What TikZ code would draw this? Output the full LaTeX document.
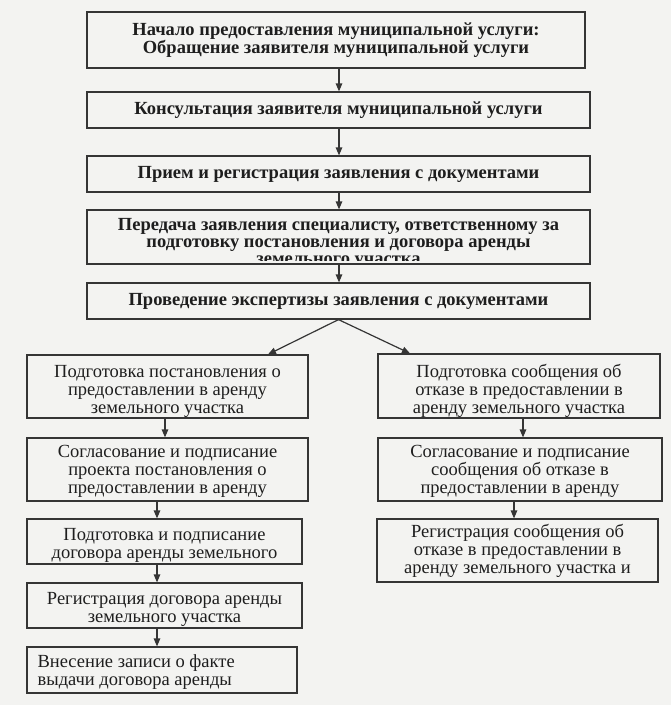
\documentclass[tikz,border=0pt]{standalone}
\usepackage{fontspec}
\setmainfont{Liberation Serif}
\usetikzlibrary{arrows.meta}
\definecolor{bg}{HTML}{F3F3F1}
\definecolor{ln}{HTML}{353535}
\definecolor{tx}{HTML}{1E1E1E}
\newcommand\dropby[1]{\rule{0pt}{#1}}
\tikzset{
  box/.style={draw=ln, line width=1.2pt, inner sep=0pt, text=tx, align=center},
  topbox/.style={box, font=\fontsize{18.5}{17}\selectfont\bfseries},
  subbox/.style={box, font=\fontsize{18.5}{18}\selectfont},
  topline/.style={inner sep=0pt, text=tx, font=\fontsize{18.5}{17}\selectfont\bfseries, anchor=base},
  arr/.style={draw=ln, line width=1.2pt, -{Triangle[length=8pt,width=6.5pt]}},
}
\begin{document}
\begin{tikzpicture}[x=1pt,y=-1pt]
\fill[bg] (0,0) rectangle (671,705);
\useasboundingbox (0,0) rectangle (671,705);
% top column
\node[topbox, minimum width=498pt, minimum height=56pt] (b1) at (336,40)
  {Начало предоставления муниципальной услуги:\\Обращение заявителя муниципальной услуги};
\node[topbox, minimum width=503pt, minimum height=36pt] (b2) at (338.5,110)
  {Консультация заявителя муниципальной услуги};
\node[topbox, minimum width=503pt, minimum height=36pt] (b3) at (338.5,174)
  {Прием и регистрация заявления с документами};
\node[box, minimum width=503pt, minimum height=54pt] (b4) at (338.5,237) {};
\begin{scope}
\clip (87,210) rectangle (590,260);
\node[topline] (t4a) at (338.5,230) {Передача заявления специалисту, ответственному за};
\node[topline] (t4b) at (338.5,247) {подготовку постановления и договора аренды};
\node[topline] (t4c) at (338.5,264) {земельного участка};
\end{scope}
\node[topbox, minimum width=503pt, minimum height=36pt] (b5) at (338.5,301)
  {Проведение экспертизы заявления с документами};
\coordinate (ac) at (339,0);
\draw[arr] (b1.south -| ac) -- (b2.north -| ac);
\draw[arr] (b2.south -| ac) -- (b3.north -| ac);
\draw[arr] (b3.south -| ac) -- (b4.north -| ac);
\draw[arr] (b4.south -| ac) -- (b5.north -| ac);
% left column
\node[subbox, minimum width=281pt, minimum height=63pt] (L1) at (167.5,386.5)
  {\dropby{22pt}Подготовка постановления о\\предоставлении в аренду\\земельного участка};
\node[subbox, minimum width=281pt, minimum height=63pt] (L2) at (167.5,469.5)
  {\dropby{15pt}Согласование и подписание\\проекта постановления о\\предоставлении в аренду};
\node[subbox, minimum width=275pt, minimum height=45pt] (L3) at (164.5,541.5)
  {\dropby{20pt}Подготовка и подписание\\договора аренды земельного};
\node[subbox, minimum width=275pt, minimum height=45pt] (L4) at (164.5,605.5)
  {\dropby{20pt}Регистрация договора аренды\\земельного участка};
\node[subbox, minimum width=270pt, minimum height=46pt] (L5) at (162,670) {};
\node[subbox, draw=none, align=left, anchor=west] (t5) at (37,672)
  {Внесение записи о факте\\выдачи договора аренды};
% right column
\node[subbox, minimum width=282pt, minimum height=64pt] (R1) at (519,386)
  {\dropby{23pt}Подготовка сообщения об\\отказе в предоставлении в\\аренду земельного участка};
\node[subbox, minimum width=284pt, minimum height=63pt] (R2) at (520,469.5)
  {\dropby{15pt}Согласование и подписание\\сообщения об отказе в\\предоставлении в аренду};
\node[subbox, minimum width=281pt, minimum height=63pt] (R3) at (517.5,550.5)
  {Регистрация сообщения об\\отказе в предоставлении в\\аренду земельного участка и};
% connectors
\coordinate (la) at (268,0);
\coordinate (ra) at (410,0);
\coordinate (l1) at (165,0);
\coordinate (l2) at (157,0);
\coordinate (r1) at (523,0);
\coordinate (r2) at (514,0);
\draw[arr] (b5.south) -- (L1.north -| la);
\draw[arr] (b5.south) -- (R1.north -| ra);
\draw[arr] (L1.south -| l1) -- (L2.north -| l1);
\draw[arr] (L2.south -| l2) -- (L3.north -| l2);
\draw[arr] (L3.south -| l2) -- (L4.north -| l2);
\draw[arr] (L4.south -| l2) -- (L5.north -| l2);
\draw[arr] (R1.south -| r1) -- (R2.north -| r1);
\draw[arr] (R2.south -| r2) -- (R3.north -| r2);
\end{tikzpicture}
\end{document}
